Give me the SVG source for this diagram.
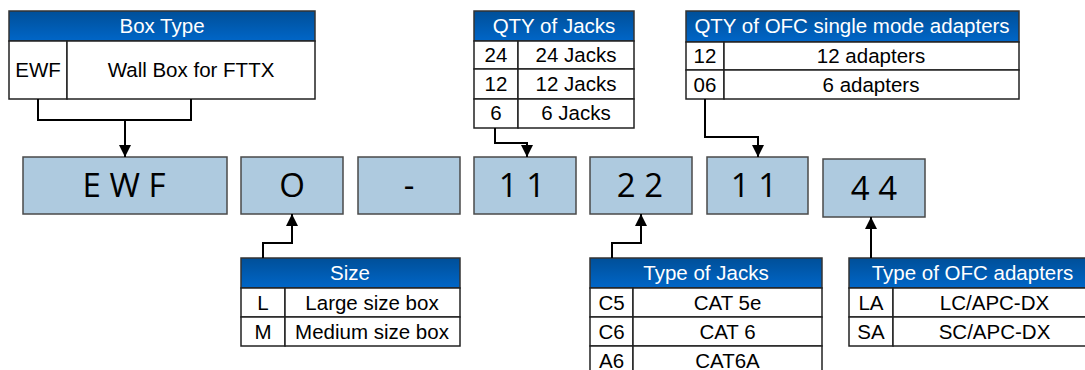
<svg xmlns="http://www.w3.org/2000/svg" width="1085" height="370" viewBox="0 0 1085 370">
<defs>
<linearGradient id="hg" x1="0" y1="0" x2="0" y2="1">
<stop offset="0" stop-color="#004f98"/>
<stop offset="1" stop-color="#0066c8"/>
</linearGradient>
<marker id="arr" markerUnits="userSpaceOnUse" markerWidth="12" markerHeight="12" viewBox="0 0 12 12" refX="12" refY="6" orient="auto">
<path d="M0,0 L12,6 L0,12 z" fill="#000"/>
</marker>
</defs>
<style>
.hd{fill:url(#hg);stroke:#333;stroke-width:1.5}
.cell{fill:#fff;stroke:#222;stroke-width:1.5}
.ht{font-family:"Liberation Sans",Arial,sans-serif;font-size:20.5px;fill:#fff;text-anchor:middle}
.ct{font-family:"Liberation Sans",Arial,sans-serif;font-size:20.5px;fill:#000;text-anchor:middle}
.box{fill:#aecadf;stroke:#4a4a4a;stroke-width:1.5}
.bt{font-family:"Open Sans","DejaVu Sans",sans-serif;font-size:33px;fill:#000;text-anchor:middle}
.cn{fill:none;stroke:#000;stroke-width:2}
</style>

<g id="boxtype">
<rect class="hd" x="9" y="11" width="306" height="30"/>
<text class="ht" x="162" y="33">Box Type</text>
<rect class="cell" x="9" y="41" width="58" height="58"/>
<rect class="cell" x="67" y="41" width="248" height="58"/>
<text class="ct" x="38" y="77">EWF</text>
<text class="ct" x="191" y="77">Wall Box for FTTX</text>
</g>

<g id="qtyjacks">
<rect class="hd" x="474" y="11" width="160" height="30"/>
<text class="ht" x="554" y="33">QTY of Jacks</text>
<rect class="cell" x="474" y="41" width="44" height="28"/>
<rect class="cell" x="518" y="41" width="116" height="28"/>
<rect class="cell" x="474" y="69" width="44" height="30"/>
<rect class="cell" x="518" y="69" width="116" height="30"/>
<rect class="cell" x="474" y="99" width="44" height="29"/>
<rect class="cell" x="518" y="99" width="116" height="29"/>
<text class="ct" x="496" y="62">24</text>
<text class="ct" x="576" y="62">24 Jacks</text>
<text class="ct" x="496" y="91">12</text>
<text class="ct" x="576" y="91">12 Jacks</text>
<text class="ct" x="496" y="120">6</text>
<text class="ct" x="576" y="120">6 Jacks</text>
</g>

<g id="qtyofc">
<rect class="hd" x="686" y="11" width="333" height="31"/>
<text class="ht" x="852" y="33">QTY of OFC single mode adapters</text>
<rect class="cell" x="686" y="42" width="38" height="28"/>
<rect class="cell" x="724" y="42" width="295" height="28"/>
<rect class="cell" x="686" y="70" width="38" height="29"/>
<rect class="cell" x="724" y="70" width="295" height="29"/>
<text class="ct" x="705" y="63">12</text>
<text class="ct" x="871" y="63">12 adapters</text>
<text class="ct" x="705" y="91.5">06</text>
<text class="ct" x="871" y="91.5">6 adapters</text>
</g>

<g id="code-ewf">
<rect class="box" x="23" y="157" width="204" height="57"/>
<text class="bt" x="124" y="197">E W F</text>
</g>
<g id="code-o">
<rect class="box" x="241" y="157" width="102" height="57"/>
<text class="bt" x="292" y="197">O</text>
</g>
<g id="code-dash">
<rect class="box" x="358" y="157" width="102" height="57"/>
<text class="bt" x="409" y="197">-</text>
</g>
<g id="code-11a">
<rect class="box" x="474" y="157" width="102" height="57"/>
<text class="bt" x="522" y="197">1 1</text>
</g>
<g id="code-22">
<rect class="box" x="590" y="157" width="102" height="57"/>
<text class="bt" x="640" y="197">2 2</text>
</g>
<g id="code-11b">
<rect class="box" x="707" y="157" width="101" height="57"/>
<text class="bt" x="754" y="197">1 1</text>
</g>
<g id="code-44">
<rect class="box" x="823" y="159" width="102" height="58"/>
<text class="bt" x="874" y="200">4 4</text>
</g>

<g id="size">
<rect class="hd" x="241" y="258" width="219" height="30"/>
<text class="ht" x="350" y="280">Size</text>
<rect class="cell" x="241" y="288" width="44" height="29"/>
<rect class="cell" x="285" y="288" width="175" height="29"/>
<rect class="cell" x="241" y="317" width="44" height="29"/>
<rect class="cell" x="285" y="317" width="175" height="29"/>
<text class="ct" x="263" y="309.5">L</text>
<text class="ct" x="372" y="309.5">Large size box</text>
<text class="ct" x="263" y="338.5">M</text>
<text class="ct" x="372" y="338.5">Medium size box</text>
</g>

<g id="typejacks">
<rect class="hd" x="590" y="258" width="232" height="30"/>
<text class="ht" x="706" y="280">Type of Jacks</text>
<rect class="cell" x="590" y="288" width="43" height="29"/>
<rect class="cell" x="633" y="288" width="189" height="29"/>
<rect class="cell" x="590" y="317" width="43" height="29"/>
<rect class="cell" x="633" y="317" width="189" height="29"/>
<rect class="cell" x="590" y="346" width="43" height="30"/>
<rect class="cell" x="633" y="346" width="189" height="30"/>
<text class="ct" x="611.5" y="309.5">C5</text>
<text class="ct" x="727.5" y="309.5">CAT 5e</text>
<text class="ct" x="611.5" y="338.5">C6</text>
<text class="ct" x="727.5" y="338.5">CAT 6</text>
<text class="ct" x="611.5" y="367.5">A6</text>
<text class="ct" x="727.5" y="367.5">CAT6A</text>
</g>

<g id="typeofc">
<rect class="hd" x="849" y="258" width="247" height="30"/>
<text class="ht" x="972.5" y="280">Type of OFC adapters</text>
<rect class="cell" x="849" y="288" width="44" height="29"/>
<rect class="cell" x="893" y="288" width="203" height="29"/>
<rect class="cell" x="849" y="317" width="44" height="29"/>
<rect class="cell" x="893" y="317" width="203" height="29"/>
<text class="ct" x="871" y="309.5">LA</text>
<text class="ct" x="994.5" y="309.5">LC/APC-DX</text>
<text class="ct" x="871" y="338.5">SA</text>
<text class="ct" x="994.5" y="338.5">SC/APC-DX</text>
</g>

<g id="connectors">
<polyline class="cn" points="38,99 38,120 191,120 191,99"/>
<line class="cn" x1="125" y1="120" x2="125" y2="157" marker-end="url(#arr)"/>
<polyline class="cn" points="495,128 495,143 527,143 527,157" marker-end="url(#arr)"/>
<polyline class="cn" points="705,99 705,137 758,137 758,157" marker-end="url(#arr)"/>
<polyline class="cn" points="263,258 263,243 292,243 292,214" marker-end="url(#arr)"/>
<polyline class="cn" points="612,258 612,243 641,243 641,214" marker-end="url(#arr)"/>
<line class="cn" x1="871" y1="258" x2="871" y2="217" marker-end="url(#arr)"/>
</g>
</svg>
